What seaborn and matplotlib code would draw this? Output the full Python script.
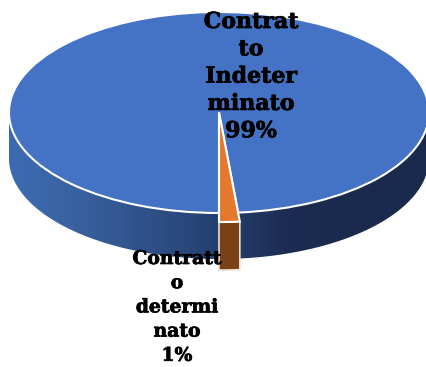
import numpy as np
import matplotlib
matplotlib.use("Agg")
import matplotlib.pyplot as plt
import matplotlib.patheffects as pe
from matplotlib.colors import LinearSegmentedColormap
from matplotlib.patches import Polygon
import seaborn as sns

label_lines = [["Contrat", "to", "Indeter", "minato"], ["Contratt", "o", "determi", "nato"]]
values = [98.55, 1.45]
top_colors = ["#4472C4", "#E4792D"]
brown = "#7A4016"
side_stops = ["#3D6BB3", "#38619F", "#2F5088", "#24406F", "#1C2C52", "#1A2A4D", "#1A2A4D"]

sns.set_theme(style="white")
plt.rcParams["font.family"] = ["DejaVu Serif"]

W, H = 426, 367
CX, CY, RX, RY = 219, 112.5, 210, 100.5
DEPTH = 46 / RY
fig = plt.figure(figsize=(W / 100, H / 100), dpi=100)
ax = fig.add_axes([0, 0, 1, 1])
xlim = ((0 - CX) / RX, (W - CX) / RX)
ylim = ((CY - H) / RY, CY / RY)

start = 270 + 3.6 * values[1]
wedges, _ = ax.pie(values, colors=top_colors, startangle=start, radius=1,
                   wedgeprops=dict(edgecolor="white", linewidth=1.5))
# the small slice is pulled forward
pull = 1.09
wedges[1].set_radius(pull)
wedges[1].set_zorder(3)

# extruded side with horizontal shading
t = np.radians(np.linspace(180, 360, 200))
xs, ys = np.cos(t), np.sin(t)
side = np.column_stack([np.r_[xs, xs[::-1]], np.r_[ys, ys[::-1] - DEPTH]])
cmap = LinearSegmentedColormap.from_list("side", side_stops)
im = ax.imshow(np.linspace(0, 1, 256)[None, :], cmap=cmap, extent=(-1, 1, -1 - DEPTH, 0),
               aspect="auto", zorder=0)
clip = Polygon(side, transform=ax.transData, facecolor="none", edgecolor="none")
ax.add_patch(clip)
im.set_clip_path(clip)

# side of the pulled slice
a = np.radians(np.linspace(270, 270 + 3.6 * values[1], 10))
bx, by = pull * np.cos(a), pull * np.sin(a)
d2 = 48 / RY
ax.add_patch(Polygon(np.column_stack([np.r_[bx, bx[::-1]], np.r_[by, by[::-1] - d2]]),
                     facecolor=brown, edgecolor="#E8DFD6", linewidth=1.2, zorder=2))

ax.set_aspect("auto")
ax.set_xlim(*xlim)
ax.set_ylim(*ylim)
ax.axis("off")

def place(lines, value, px, py0, step, size):
    for i, s in enumerate(lines + [f"{value:.0f}%"]):
        ax.text((px - CX) / RX, (CY - (py0 + i * step)) / RY, s, ha="center", va="center",
                fontsize=size, fontweight="bold", color="black", zorder=5,
                path_effects=[pe.withStroke(linewidth=0.5, foreground="black")])

place(label_lines[0], values[0], 251, 22, 27.3, 15.9)
place(label_lines[1], values[1], 177, 259, 24.2, 13.5)

fig.savefig("out.png", dpi=100, facecolor="white")
